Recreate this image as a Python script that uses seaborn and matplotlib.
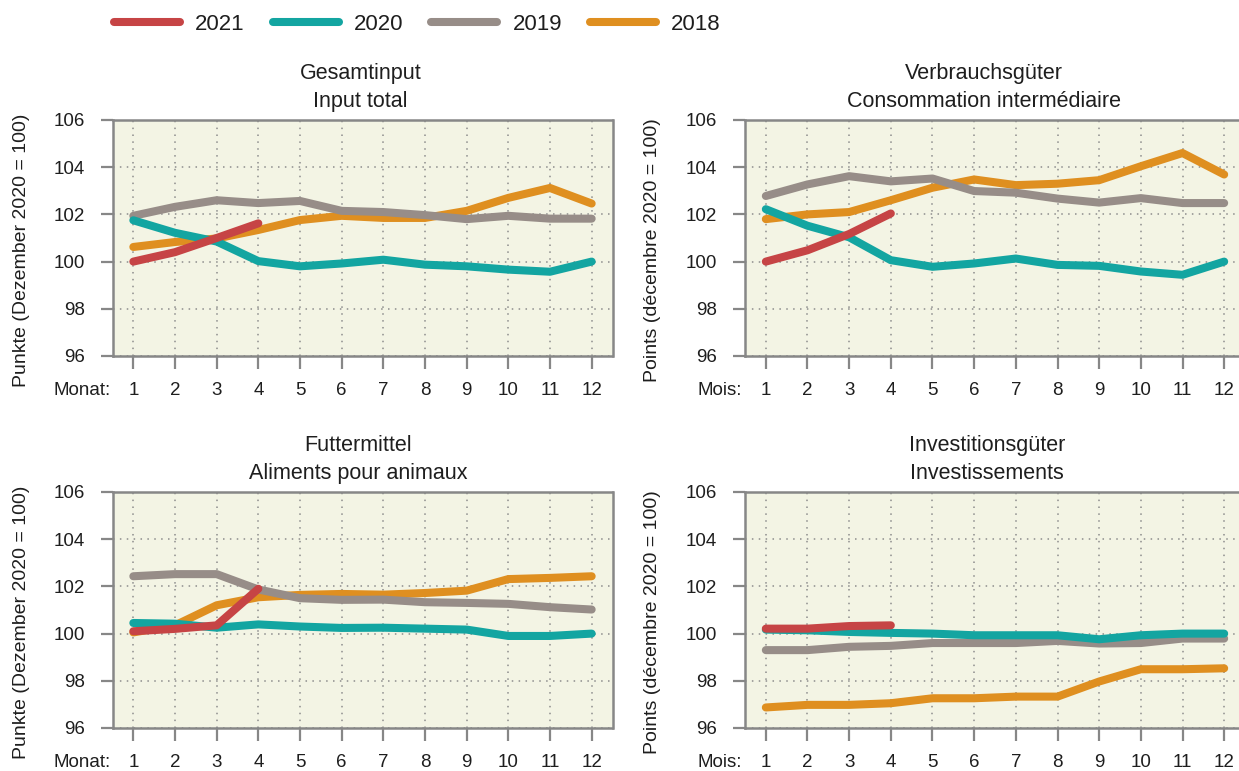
import matplotlib
matplotlib.use("Agg")
import matplotlib.pyplot as plt
import pandas as pd
import seaborn as sns
from matplotlib.lines import Line2D

# Index values per month (December 2020 = 100)
months = list(range(1, 13))
years = ["2021", "2020", "2019", "2018"]
draw_order = ["2018", "2019", "2020", "2021"]
colors = {"2021": "#c64445", "2020": "#13a5a1", "2019": "#978d88", "2018": "#df8f20"}

gesamt_2021 = [100.0, 100.4, 101.0, 101.62]
gesamt_2020 = [101.75, 101.22, 100.85, 100.02, 99.8, 99.92, 100.08, 99.87, 99.8, 99.66, 99.57, 100.0]
gesamt_2019 = [101.94, 102.32, 102.6, 102.48, 102.57, 102.15, 102.1, 101.97, 101.8, 101.94, 101.82, 101.82]
gesamt_2018 = [100.62, 100.83, 100.98, 101.34, 101.76, 101.94, 101.85, 101.85, 102.15, 102.7, 103.12, 102.46]

verbrauch_2021 = [100.0, 100.48, 101.17, 102.04]
verbrauch_2020 = [102.22, 101.52, 101.03, 100.06, 99.78, 99.92, 100.13, 99.86, 99.82, 99.58, 99.44, 100.0]
verbrauch_2019 = [102.78, 103.27, 103.62, 103.4, 103.52, 102.99, 102.92, 102.67, 102.5, 102.69, 102.48, 102.48]
verbrauch_2018 = [101.8, 102.0, 102.1, 102.6, 103.13, 103.48, 103.24, 103.3, 103.45, 104.04, 104.6, 103.69]

futter_2021 = [100.1, 100.2, 100.35, 101.9]
futter_2020 = [100.45, 100.42, 100.25, 100.39, 100.3, 100.24, 100.25, 100.21, 100.17, 99.9, 99.9, 100.0]
futter_2019 = [102.43, 102.52, 102.52, 101.87, 101.5, 101.43, 101.44, 101.33, 101.3, 101.26, 101.12, 101.02]
futter_2018 = [100.05, 100.35, 101.2, 101.54, 101.64, 101.68, 101.65, 101.72, 101.82, 102.31, 102.36, 102.43]

invest_2021 = [100.21, 100.21, 100.32, 100.35]
invest_2020 = [100.17, 100.14, 100.07, 100.03, 100.0, 99.93, 99.93, 99.93, 99.76, 99.93, 100.0, 100.0]
invest_2019 = [99.3, 99.3, 99.44, 99.48, 99.6, 99.6, 99.6, 99.69, 99.58, 99.6, 99.79, 99.79]
invest_2018 = [96.87, 96.98, 96.98, 97.05, 97.26, 97.26, 97.33, 97.33, 97.97, 98.49, 98.49, 98.53]

y_ticks = [96, 98, 100, 102, 104, 106]

panels = [
    dict(series={"2021": gesamt_2021, "2020": gesamt_2020, "2019": gesamt_2019, "2018": gesamt_2018},
         title=("Gesamtinput", "Input total"), tx=0.496,
         ylabel="Punkte (Dezember 2020 = 100)", mlabel="Monat:",
         pos=[112.5, 356], ylab_x=22),
    dict(series={"2021": verbrauch_2021, "2020": verbrauch_2020, "2019": verbrauch_2019, "2018": verbrauch_2018},
         title=("Verbrauchsgüter", "Consommation intermédiaire"), tx=0.478,
         ylabel="Points (décembre 2020 = 100)", mlabel="Mois:",
         pos=[745, 356], ylab_x=653),
    dict(series={"2021": futter_2021, "2020": futter_2020, "2019": futter_2019, "2018": futter_2018},
         title=("Futtermittel", "Aliments pour animaux"), tx=0.492,
         ylabel="Punkte (Dezember 2020 = 100)", mlabel="Monat:",
         pos=[112.5, 728], ylab_x=22),
    dict(series={"2021": invest_2021, "2020": invest_2020, "2019": invest_2019, "2018": invest_2018},
         title=("Investitionsgüter", "Investissements"), tx=0.484,
         ylabel="Points (décembre 2020 = 100)", mlabel="Mois:",
         pos=[745, 728], ylab_x=653),
]

sns.set_style("white")
plt.rcParams["font.family"] = ["Liberation Sans", "DejaVu Sans"]
plt.rcParams["text.color"] = "#1e1e1e"

W, H = 1239, 771
fig = plt.figure(figsize=(W / 100, H / 100), dpi=100)
fig.patch.set_facecolor("white")

edge = "#878787"
ax_w, ax_h = 500, 236

for p in panels:
    x0, ybot = p["pos"]
    ax = fig.add_axes([x0 / W, (H - ybot) / H, ax_w / W, ax_h / H])
    ax.set_facecolor("#f3f4e4")

    rows = []
    for yr, vals in p["series"].items():
        for m, v in zip(months, vals):
            rows.append({"Monat": m, "Wert": v, "Jahr": yr})
    df = pd.DataFrame(rows)

    sns.lineplot(data=df, x="Monat", y="Wert", hue="Jahr", hue_order=draw_order,
                 palette=colors, linewidth=5.8, solid_capstyle="round",
                 solid_joinstyle="round", legend=False, errorbar=None,
                 estimator=None, sort=False, ax=ax)

    ax.set_xlim(0.5, 12.5)
    ax.set_ylim(96, 106)
    ax.set_xticks(months)
    ax.set_yticks(y_ticks)
    ax.set_xlabel("")
    ax.set_ylabel("")
    ax.set_axisbelow(True)
    ax.grid(True, color="#8c8c8c", linestyle=(0, (1, 3.5)), linewidth=1.1)

    for s in ax.spines.values():
        s.set_color(edge)
        s.set_linewidth(1.8)
        s.set_visible(True)
    ax.tick_params(axis="both", colors=edge, labelcolor="#1e1e1e", width=1.6,
                   labelsize=13.5, direction="out")
    ax.tick_params(axis="x", length=9, pad=10, bottom=True)
    ax.tick_params(axis="y", length=9, pad=11, left=True)

    ax.text(-0.004 if p["mlabel"] == "Monat:" else -0.006, -0.146, p["mlabel"],
            transform=ax.transAxes, ha="right", va="center", fontsize=13.5)

    ax.annotate(p["title"][0], xy=(p["tx"], 1), xycoords="axes fraction",
                xytext=(0, 29.5), textcoords="offset points",
                ha="center", va="baseline", fontsize=15.5)
    ax.annotate(p["title"][1], xy=(p["tx"], 1), xycoords="axes fraction",
                xytext=(0, 9.5), textcoords="offset points",
                ha="center", va="baseline", fontsize=15.5)

    yc = ybot - ax_h / 2 + 12
    fig.text(p["ylab_x"] / W, 1 - yc / H, p["ylabel"], rotation=90,
             ha="center", va="center", fontsize=14)

handles = [Line2D([0], [0], color=colors[y], linewidth=5.8) for y in years]
fig.legend(handles, years, loc="center left", ncol=4, frameon=False,
           bbox_to_anchor=(114 / W, 1 - 24 / H), borderpad=0, borderaxespad=0,
           handlelength=2.97, handletextpad=0.68, columnspacing=1.26,
           fontsize=16)

fig.savefig("out.png", dpi=100, facecolor="white")
